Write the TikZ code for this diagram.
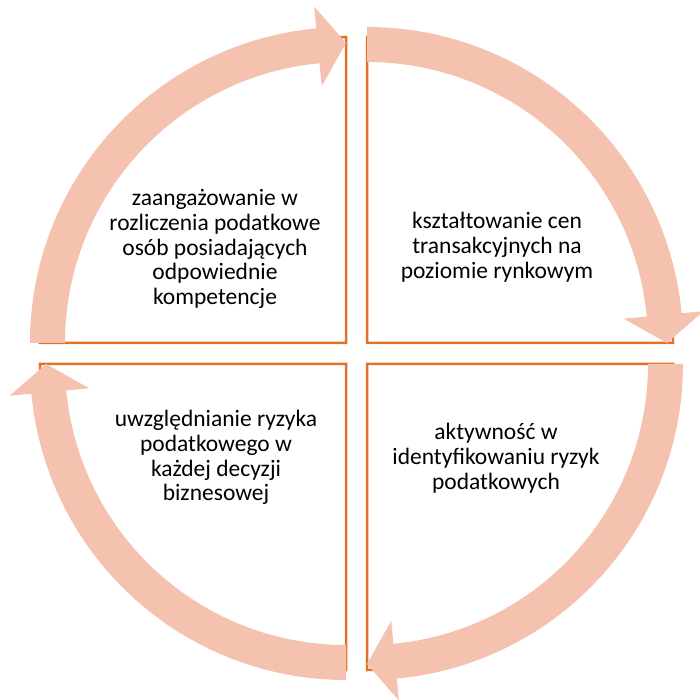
\documentclass[tikz,border=0pt]{standalone}
\usepackage{fontspec}
\setmainfont{Carlito}
\definecolor{arrowfill}{RGB}{244,194,174}
\definecolor{edgeorange}{RGB}{228,113,42}
\newcommand\cyclearrow[3]{%
  \pgfmathsetmacro\aS{#3}%
  \pgfmathsetmacro\aB{#3-84.6}%
  \pgfmathsetmacro\aT{#3-90}%
  \fill[arrowfill] ([shift={(#1,#2)}]\aS:316) arc[start angle=\aS,end angle=\aB,radius=316]
    -- ([shift={(#1,#2)}]\aB:338) -- ([shift={(#1,#2)}]\aT:300)
    -- ([shift={(#1,#2)}]\aB:258) -- ([shift={(#1,#2)}]\aB:281)
    arc[start angle=\aB,end angle=\aS,radius=281] -- cycle;}
\begin{document}
\begin{tikzpicture}[x=1pt,y=1pt,
  quad/.style={draw=edgeorange,line width=2.5pt,fill=white,line join=miter},
  label/.style={align=center,font=\fontsize{23.5}{24.8}\selectfont,text=black,inner sep=0pt}]
\useasboundingbox (0,0) rectangle (700,699);
\clip (0,0) rectangle (700,699);
% quadrants
\draw[quad] (346,356) -- ++(180:306) arc[start angle=180,end angle=90,radius=306] -- cycle;
\draw[quad] (367,356) -- ++(90:306) arc[start angle=90,end angle=0,radius=306] -- cycle;
\draw[quad] (367,335) -- ++(0:306) arc[start angle=0,end angle=-90,radius=306] -- cycle;
\draw[quad] (346,335) -- ++(-90:306) arc[start angle=-90,end angle=-180,radius=306] -- cycle;
% arrows
\cyclearrow{346}{356}{180}
\cyclearrow{367}{356}{90}
\cyclearrow{367}{335}{0}
\cyclearrow{346}{335}{-90}
% texts
\node[label] (tl) at (215,450) {zaangażowanie w\\rozliczenia podatkowe\\osób posiadających\\odpowiednie\\kompetencje};
\node[label] (tr) at (497,452) {kształtowanie cen\\transakcyjnych na\\poziomie rynkowym};
\node[label] (br) at (496,241) {aktywność w\\identyfikowaniu ryzyk\\podatkowych};
\node[label] (bl) at (216,241.5) {uwzględnianie ryzyka\\podatkowego w\\każdej decyzji\\biznesowej};
\end{tikzpicture}
\end{document}
